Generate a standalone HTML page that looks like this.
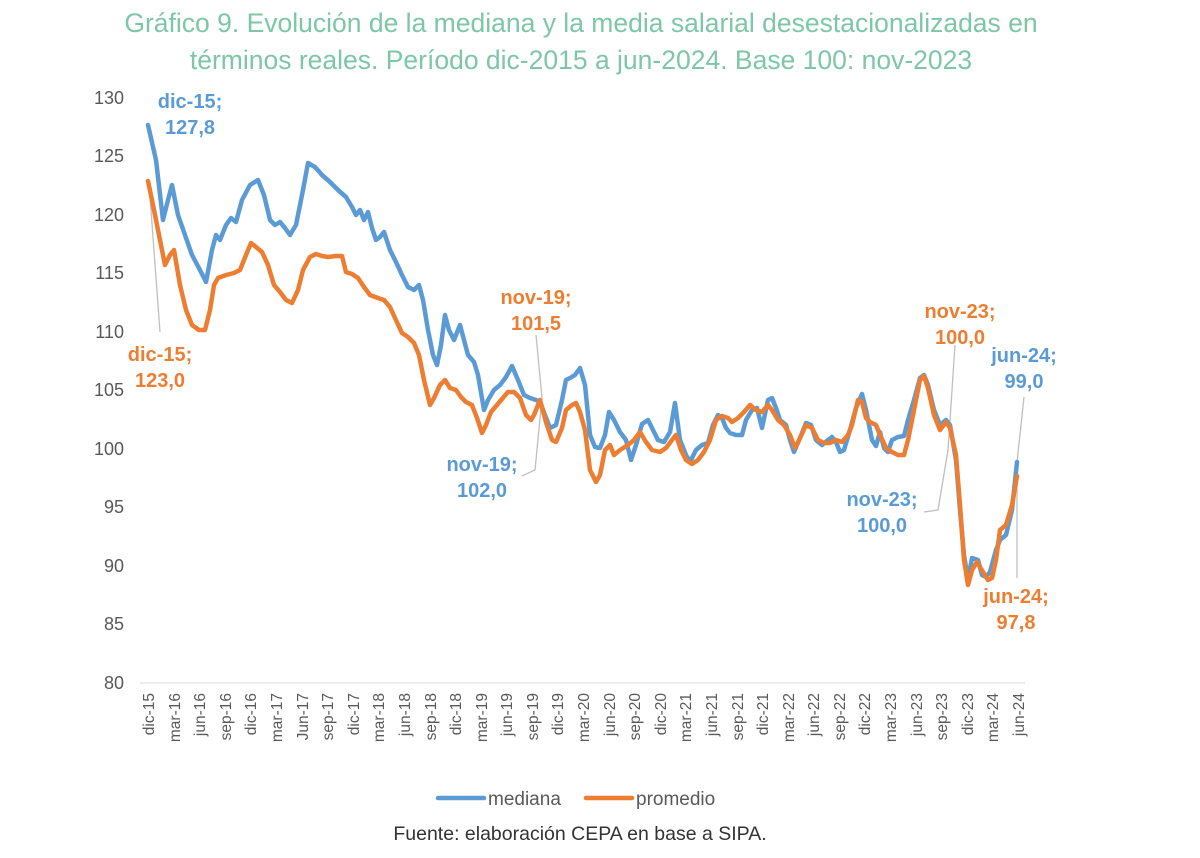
<!DOCTYPE html>
<html><head><meta charset="utf-8"><style>
body{margin:0;background:#fff;}
svg text{font-family:"Liberation Sans",sans-serif;}
</style></head><body>
<svg width="1200" height="853" viewBox="0 0 1200 853" xmlns="http://www.w3.org/2000/svg">
<rect width="1200" height="853" fill="#fff"/>
<text x="581" y="32" text-anchor="middle" font-size="26.5" fill="#7dc7a6">Gráfico 9. Evolución de la mediana y la media salarial desestacionalizadas en</text>
<text x="581" y="69" text-anchor="middle" font-size="26.5" fill="#7dc7a6">términos reales. Período dic-2015 a jun-2024. Base 100: nov-2023</text>
<g font-size="18" fill="#595959" text-anchor="end">
<text x="124" y="104">130</text><text x="124" y="162">125</text><text x="124" y="221">120</text><text x="124" y="279">115</text><text x="124" y="338">110</text><text x="124" y="396">105</text><text x="124" y="455">100</text><text x="124" y="513">95</text><text x="124" y="572">90</text><text x="124" y="630">85</text><text x="124" y="689">80</text>
</g>
<line x1="140" y1="683" x2="1025" y2="683" stroke="#d9d9d9" stroke-width="1"/>
<g fill="none" stroke="#bfbfbf" stroke-width="1.3">
<polyline points="149,183 160,332"/>
<polyline points="536,335 542,398 535,470 522,476"/>
<polyline points="955,345 948,450 938,510 924,512"/>
<polyline points="1024,397 1017,462"/>
<polyline points="1017,476 1017,578"/>
</g>
<polyline fill="none" stroke="#5b9bd5" stroke-width="4.5" stroke-linejoin="round" stroke-linecap="round" points="148,125 156,160 163,220 168,200 172,185 178,215 185,235 192,255 200,270 206,282 212,250 216,235 220,240 226,225 231,218 236,222 242,200 250,185 258,180 264,195 270,220 275,225 280,222 285,228 290,235 296,225 303,190 308,163 315,167 322,175 330,182 338,190 346,197 352,207 356,215 360,210 364,220 368,212 372,228 376,240 380,237 384,232 390,250 396,262 402,275 408,287 414,290 419,285 423,300 428,330 433,355 437,365 441,345 445,315 449,330 454,340 460,325 464,340 468,355 474,362 478,375 484,410 488,400 494,390 500,385 506,377 512,366 518,380 524,395 530,398 536,400 540,402 545,415 550,428 556,425 562,400 566,380 570,378 575,375 580,368 585,385 590,435 595,447 600,448 605,435 609,412 614,420 620,432 626,440 631,460 636,445 642,424 648,420 652,428 658,440 664,442 670,432 675,403 680,440 686,455 690,462 696,450 702,445 708,443 713,425 718,415 722,418 726,428 730,433 736,435 742,435 746,420 752,410 757,408 762,428 768,400 772,398 776,408 780,420 786,425 790,440 794,452 800,438 806,423 811,425 816,440 822,445 828,440 832,437 836,442 840,452 844,450 850,430 856,408 862,394 866,410 872,440 876,446 880,432 884,448 888,452 892,440 898,437 904,436 908,420 914,400 920,378 924,375 928,385 934,410 940,425 946,420 950,425 956,460 960,510 964,555 968,580 972,558 978,560 982,575 986,577 990,572 996,550 1000,540 1006,535 1012,510 1017,462"/>
<polyline fill="none" stroke="#ed7d31" stroke-width="4.5" stroke-linejoin="round" stroke-linecap="round" points="148,181 153,205 160,240 165,265 170,255 174,250 180,285 186,310 192,325 199,330 205,330 210,310 214,285 218,278 226,275 234,273 240,270 246,255 251,243 256,247 262,252 268,265 274,285 280,292 286,300 292,303 298,290 303,270 310,257 316,254 322,256 328,257 336,256 342,256 346,272 352,274 358,278 364,287 370,295 378,298 384,300 390,307 395,318 402,333 408,337 414,343 419,355 424,380 430,405 434,398 440,385 445,380 450,388 456,390 461,397 466,402 472,405 477,418 482,433 486,425 491,412 497,405 502,399 508,392 514,392 520,398 526,415 531,420 534,415 540,400 546,422 552,440 556,442 562,428 566,410 572,405 576,403 580,412 585,430 590,470 596,482 600,475 605,450 610,445 614,455 620,450 628,445 634,440 640,432 646,442 652,450 660,452 666,448 672,440 676,435 681,450 686,460 692,464 698,460 704,452 710,440 716,420 722,416 728,418 732,422 738,418 744,412 750,405 756,410 762,412 768,405 772,410 778,420 784,425 790,435 795,448 800,438 806,425 812,428 818,440 824,443 830,443 836,440 842,442 848,435 852,425 858,400 862,402 866,418 870,422 876,425 880,435 886,448 892,452 898,455 904,455 908,440 914,410 920,380 924,376 928,388 934,415 940,430 946,422 950,428 956,455 960,505 964,560 968,585 972,570 977,562 983,572 988,580 992,578 996,560 1000,530 1006,525 1012,505 1017,476"/>
<g font-size="20" text-anchor="middle" font-weight="600">
<text x="190" y="108" fill="#5b9bd5">dic-15;</text><text x="190" y="134" fill="#5b9bd5">127,8</text>
<text x="160" y="361" fill="#ed7d31">dic-15;</text><text x="160" y="387" fill="#ed7d31">123,0</text>
<text x="536" y="304" fill="#ed7d31">nov-19;</text><text x="536" y="330" fill="#ed7d31">101,5</text>
<text x="482" y="471" fill="#5b9bd5">nov-19;</text><text x="482" y="497" fill="#5b9bd5">102,0</text>
<text x="960" y="318" fill="#ed7d31">nov-23;</text><text x="960" y="344" fill="#ed7d31">100,0</text>
<text x="882" y="506" fill="#5b9bd5">nov-23;</text><text x="882" y="532" fill="#5b9bd5">100,0</text>
<text x="1024" y="362" fill="#5b9bd5">jun-24;</text><text x="1024" y="388" fill="#5b9bd5">99,0</text>
<text x="1016" y="603" fill="#ed7d31">jun-24;</text><text x="1016" y="629" fill="#ed7d31">97,8</text>
</g>
<line x1="438" y1="798" x2="484" y2="798" stroke="#5b9bd5" stroke-width="4.5" stroke-linecap="round"/>
<text x="488" y="805" font-size="19" fill="#595959">mediana</text>
<line x1="586" y1="798" x2="632" y2="798" stroke="#ed7d31" stroke-width="4.5" stroke-linecap="round"/>
<text x="636" y="805" font-size="19" fill="#595959">promedio</text>
<text x="580" y="840" text-anchor="middle" font-size="19.5" fill="#333">Fuente: elaboración CEPA en base a SIPA.</text>
<g font-size="15.5" fill="#595959" text-anchor="end">
<text transform="translate(154,693) rotate(-90)">dic-15</text>
<text transform="translate(180,693) rotate(-90)">mar-16</text>
<text transform="translate(205,693) rotate(-90)">jun-16</text>
<text transform="translate(231,693) rotate(-90)">sep-16</text>
<text transform="translate(256,693) rotate(-90)">dic-16</text>
<text transform="translate(282,693) rotate(-90)">mar-17</text>
<text transform="translate(308,693) rotate(-90)">Jun-17</text>
<text transform="translate(333,693) rotate(-90)">sep-17</text>
<text transform="translate(359,693) rotate(-90)">dic-17</text>
<text transform="translate(384,693) rotate(-90)">mar-18</text>
<text transform="translate(410,693) rotate(-90)">jun-18</text>
<text transform="translate(436,693) rotate(-90)">sep-18</text>
<text transform="translate(461,693) rotate(-90)">dic-18</text>
<text transform="translate(487,693) rotate(-90)">mar-19</text>
<text transform="translate(512,693) rotate(-90)">jun-19</text>
<text transform="translate(538,693) rotate(-90)">sep-19</text>
<text transform="translate(563,693) rotate(-90)">dic-19</text>
<text transform="translate(589,693) rotate(-90)">mar-20</text>
<text transform="translate(615,693) rotate(-90)">jun-20</text>
<text transform="translate(640,693) rotate(-90)">sep-20</text>
<text transform="translate(666,693) rotate(-90)">dic-20</text>
<text transform="translate(691,693) rotate(-90)">mar-21</text>
<text transform="translate(717,693) rotate(-90)">jun-21</text>
<text transform="translate(743,693) rotate(-90)">sep-21</text>
<text transform="translate(768,693) rotate(-90)">dic-21</text>
<text transform="translate(794,693) rotate(-90)">mar-22</text>
<text transform="translate(819,693) rotate(-90)">jun-22</text>
<text transform="translate(845,693) rotate(-90)">sep-22</text>
<text transform="translate(870,693) rotate(-90)">dic-22</text>
<text transform="translate(896,693) rotate(-90)">mar-23</text>
<text transform="translate(922,693) rotate(-90)">jun-23</text>
<text transform="translate(947,693) rotate(-90)">sep-23</text>
<text transform="translate(973,693) rotate(-90)">dic-23</text>
<text transform="translate(998,693) rotate(-90)">mar-24</text>
<text transform="translate(1024,693) rotate(-90)">jun-24</text>
</g>
</svg>
</body></html>
